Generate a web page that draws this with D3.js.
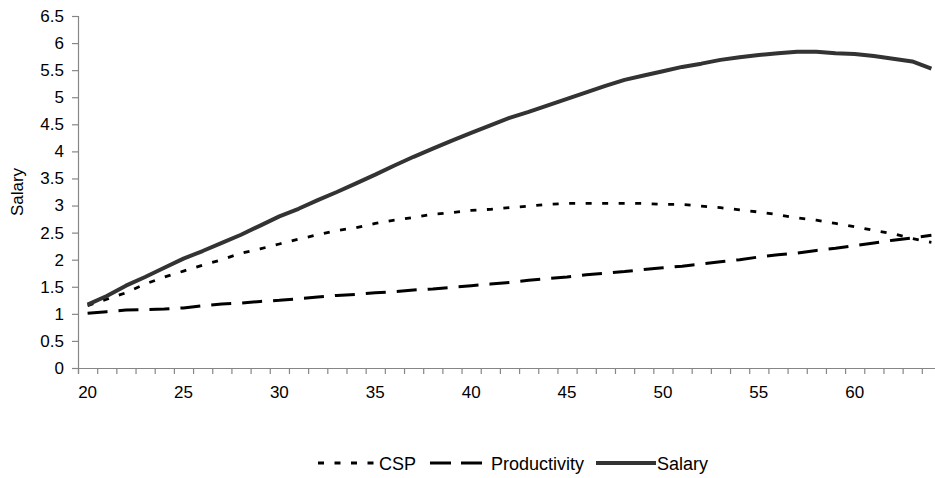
<!DOCTYPE html>
<html>
<head>
<meta charset="utf-8">
<script src="https://cdn.jsdelivr.net/npm/d3@7"></script>
<style>
  html, body { margin: 0; padding: 0; background: #fff; }
  svg { display: block; font-family: "Liberation Sans", Arial, sans-serif; }
</style>
</head>
<body>
<svg id="chart" width="935" height="478"></svg>
<script>
const ages = [20,21,22,23,24,25,26,27,28,29,30,31,32,33,34,35,36,37,38,39,40,41,42,43,44,45,46,47,48,49,50,51,52,53,54,55,56,57,58,59,60,61,62,63,64];
const csp = [1.15,1.27,1.39,1.55,1.68,1.79,1.90,2.00,2.12,2.20,2.29,2.38,2.46,2.54,2.59,2.67,2.73,2.78,2.84,2.87,2.91,2.93,2.96,2.99,3.02,3.04,3.04,3.04,3.04,3.04,3.02,3.02,2.99,2.96,2.92,2.88,2.83,2.77,2.73,2.67,2.61,2.54,2.48,2.39,2.32];
const productivity = [1.01,1.04,1.07,1.08,1.09,1.11,1.15,1.18,1.20,1.23,1.25,1.28,1.31,1.34,1.36,1.39,1.41,1.44,1.46,1.49,1.52,1.55,1.58,1.62,1.65,1.68,1.72,1.75,1.78,1.82,1.85,1.88,1.92,1.96,2.00,2.05,2.09,2.12,2.17,2.21,2.26,2.31,2.36,2.40,2.45];
const salary = [1.17,1.33,1.52,1.68,1.85,2.02,2.16,2.31,2.46,2.63,2.80,2.94,3.10,3.25,3.41,3.57,3.74,3.90,4.05,4.20,4.34,4.48,4.62,4.73,4.85,4.97,5.09,5.21,5.32,5.40,5.48,5.56,5.62,5.69,5.74,5.78,5.81,5.84,5.84,5.81,5.80,5.76,5.71,5.66,5.53];
const yTicks = [0,0.5,1,1.5,2,2.5,3,3.5,4,4.5,5,5.5,6,6.5];
const xLabelAges = [20,25,30,35,40,45,50,55,60];
const seriesNames = ["CSP","Productivity","Salary"];

const svg = d3.select("#chart");
const L = 78, R = 941, T = 16, B = 368;
const axisColor = "#868686";

const x = d3.scaleBand().domain(ages).range([L, R]).padding(0);
const xb = d3.scaleLinear().domain([0, ages.length]).range([L, R]);
const y = d3.scaleLinear().domain([0, 6.5]).range([B, T]);

// Y axis
const yAxis = svg.append("g").attr("transform", `translate(${L},0)`)
  .call(d3.axisLeft(y).tickValues(yTicks).tickSize(6).tickPadding(8).tickFormat(d => String(d)));
yAxis.select(".domain").attr("stroke", axisColor).attr("stroke-width", 1.2);
yAxis.selectAll(".tick line").attr("stroke", axisColor).attr("stroke-width", 1.2);
yAxis.selectAll(".tick text").attr("fill", "#000").style("font-size", "17px")
  .style("font-family", '"Liberation Sans", Arial, sans-serif');

// X axis boundary ticks
const xTickAxis = svg.append("g").attr("transform", `translate(0,${B})`)
  .call(d3.axisBottom(xb).tickValues(d3.range(0, ages.length + 1)).tickSize(6).tickFormat(""));
xTickAxis.select(".domain").attr("stroke", axisColor).attr("stroke-width", 1.2);
xTickAxis.selectAll(".tick line").attr("stroke", axisColor).attr("stroke-width", 1.2);

// X axis labels at category centres
const xLab = svg.append("g").attr("transform", `translate(0,${B})`)
  .call(d3.axisBottom(x).tickValues(xLabelAges).tickSize(0).tickPadding(18));
xLab.select(".domain").remove();
xLab.selectAll(".tick text").attr("fill", "#000").style("font-size", "17px")
  .style("font-family", '"Liberation Sans", Arial, sans-serif');

// Y axis title
svg.append("text")
  .attr("transform", `translate(23,${(T + B) / 2}) rotate(-90)`)
  .attr("text-anchor", "middle")
  .style("font-size", "17px")
  .text("Salary");

const cx = (a) => x(a) + x.bandwidth() / 2;
const styles = {
  CSP: { data: csp, stroke: "#000", width: 2.8, dash: "6,10.5" },
  Productivity: { data: productivity, stroke: "#000", width: 3, dash: "20,11" },
  Salary: { data: salary, stroke: "#333", width: 4, dash: null }
};

const line = d3.line().x(d => cx(d.a)).y(d => y(d.v));
seriesNames.forEach(name => {
  const s = styles[name];
  const pts = ages.map((a, i) => ({ a, v: s.data[i] }));
  svg.append("path").datum(pts)
    .attr("d", line)
    .attr("fill", "none")
    .attr("stroke", s.stroke)
    .attr("stroke-width", s.width)
    .attr("stroke-linejoin", "round")
    .attr("stroke-dasharray", s.dash);
});

// Legend
const legendY = 463;
const legendItems = [
  { name: "CSP", x0: 318 },
  { name: "Productivity", x0: 430 },
  { name: "Salary", x0: 596 }
];
legendItems.forEach(it => {
  const s = styles[it.name];
  svg.append("line")
    .attr("x1", it.x0).attr("x2", it.x0 + 60)
    .attr("y1", legendY).attr("y2", legendY)
    .attr("stroke", s.stroke)
    .attr("stroke-width", s.width)
    .attr("stroke-dasharray", it.name === "Productivity" ? "21,10" : s.dash);
  svg.append("text")
    .attr("x", it.x0 + 61)
    .attr("y", legendY + 6.5)
    .style("font-size", "18px")
    .text(it.name);
});
</script>
</body>
</html>
